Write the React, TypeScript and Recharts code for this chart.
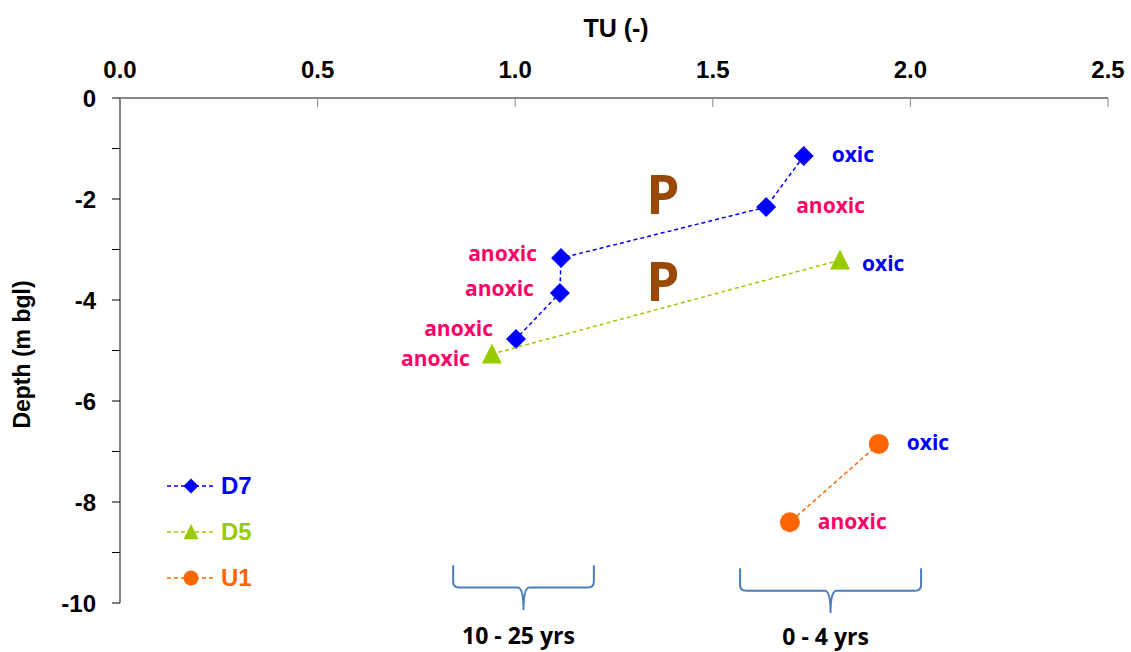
import React from "react";
import {
  ScatterChart,
  Scatter,
  XAxis,
  YAxis,
  Legend,
  Label,
  ReferenceArea,
  ReferenceDot,
} from "recharts";

// tick labels
const X_TICKS = [0, 0.5, 1, 1.5, 2, 2.5];
const Y_TICKS = [0, -1, -2, -3, -4, -5, -6, -7, -8, -9, -10];
const Y_LABELLED = [0, -2, -4, -6, -8, -10];

// D7
const D7_TU = [1.73, 1.635, 1.116, 1.113, 1.002];
const D7_DEPTH = [-1.15, -2.16, -3.17, -3.86, -4.77];
const D7_NOTES = ["oxic", "anoxic", "anoxic", "anoxic", "anoxic"];

// D5
const D5_TU = [1.822, 0.941];
const D5_DEPTH = [-3.21, -5.07];
const D5_NOTES = ["oxic", "anoxic"];

// U1
const U1_TU = [1.92, 1.695];
const U1_DEPTH = [-6.85, -8.4];
const U1_NOTES = ["oxic", "anoxic"];

// "P" marks
const P_TU = [1.374, 1.374];
const P_DEPTH = [-1.94, -3.66];

// age brackets under the x range
const BRACE_LABELS = ["10 - 25 yrs", "0 - 4 yrs"];
const BRACE_TU_FROM = [0.843, 1.569];
const BRACE_TU_TO = [1.199, 2.027];
const BRACE_DEPTH_TOP = [-9.25, -9.31];
const BRACE_DEPTH_END = [-10.14, -10.2];

// where each note sits relative to its point (px)
const D7_NOTE_POS = [[28, 0], [30, 0], [-24, -3], [-26, -3], [-23, -9]];
const D5_NOTE_POS = [[22, 5], [-22, 6]];
const U1_NOTE_POS = [[28, 0], [28, 1]];

const ARIAL = '"Liberation Sans", Arial, sans-serif';
const CALIBRI = '"Open Sans", Calibri, sans-serif';
const AXIS_GREY = "#868686";
const OXIC = "#0000FF";
const ANOXIC = "#FF0066";

type Kind = "diamond" | "triangle" | "circle";

const build = (tu: number[], depth: number[], notes: string[]) =>
  tu.map((t, i) => ({ tu: t, depth: depth[i], note: notes[i], idx: i }));

const SERIES = [
  { name: "D7", color: "#0000FF", kind: "diamond" as Kind, data: build(D7_TU, D7_DEPTH, D7_NOTES), pos: D7_NOTE_POS },
  { name: "D5", color: "#99CC00", kind: "triangle" as Kind, data: build(D5_TU, D5_DEPTH, D5_NOTES), pos: D5_NOTE_POS },
  { name: "U1", color: "#FF6600", kind: "circle" as Kind, data: build(U1_TU, U1_DEPTH, U1_NOTES), pos: U1_NOTE_POS },
];

function Marker({ kind, cx, cy, r, fill }: { kind: Kind; cx: number; cy: number; r: number; fill: string }) {
  if (kind === "diamond") {
    return <polygon points={`${cx},${cy - r} ${cx + r},${cy} ${cx},${cy + r} ${cx - r},${cy}`} fill={fill} />;
  }
  if (kind === "triangle") {
    const h = r * 1.9;
    return (
      <polygon
        points={`${cx},${cy - h / 2 - 1} ${cx + r},${cy + h / 2} ${cx - r},${cy + h / 2}`}
        fill={fill}
      />
    );
  }
  return <circle cx={cx} cy={cy} r={r} fill={fill} />;
}

const pointShape = (kind: Kind, color: string, pos: number[][]) => (p: any) => {
  const { cx, cy, payload } = p;
  const [dx, dy] = pos[payload.idx] || [26, 0];
  const note = payload.note as string;
  return (
    <g>
      <Marker kind={kind} cx={cx} cy={cy} r={10} fill={color} />
      <text
        x={cx + dx}
        y={cy + dy + 6}
        textAnchor={dx < 0 ? "end" : "start"}
        fontFamily={CALIBRI}
        fontWeight={700}
        fontSize={21}
        fill={note === "oxic" ? OXIC : ANOXIC}
      >
        {note}
      </text>
    </g>
  );
};

const braceShape = (label: string) => (p: any) => {
  const { x, y, width, height } = p;
  const x2 = x + width;
  const mid = x + width / 2;
  const h = y + height * 0.5;
  const end = y + height;
  const d =
    `M${x},${y} L${x},${h - 6} Q${x},${h} ${x + 6},${h} L${mid - 6},${h} Q${mid},${h} ${mid},${end} ` +
    `M${x2},${y} L${x2},${h - 6} Q${x2},${h} ${x2 - 6},${h} L${mid + 6},${h} Q${mid},${h} ${mid},${end}`;
  return (
    <g>
      <path d={d} fill="none" stroke="#4A7EBB" strokeWidth={2} />
      <text
        x={mid - 5}
        y={Math.min(end + 34, 645)}
        textAnchor="middle"
        fontFamily={CALIBRI}
        fontWeight={700}
        fontSize={23}
        fill="#000"
      >
        {label}
      </text>
    </g>
  );
};

const pShape = (p: any) => (
  <text
    x={p.cx}
    y={p.cy + 18}
    textAnchor="middle"
    fontFamily={CALIBRI}
    fontWeight={700}
    fontSize={53}
    fill="#984807"
  >
    P
  </text>
);

const renderLegend = () => (
  <div>
    {SERIES.map((s) => (
      <div key={s.name} style={{ display: "flex", alignItems: "center", height: 46 }}>
        <svg width={50} height={24}>
          <line x1={0} x2={48} y1={12} y2={12} stroke={s.color} strokeWidth={1.5} strokeDasharray="4 3" />
          <Marker kind={s.kind} cx={24} cy={12} r={7.5} fill={s.color} />
        </svg>
        <span style={{ marginLeft: 4, fontFamily: ARIAL, fontWeight: 700, fontSize: 24, color: s.color }}>
          {s.name}
        </span>
      </div>
    ))}
  </div>
);

export default function App() {
  const tickStyle = { fontSize: 24, fontWeight: 700, fill: "#000", fontFamily: ARIAL };
  return (
    <div style={{ position: "absolute", left: 0, top: 0, background: "#fff" }}>
      <ScatterChart width={1131} height={652} margin={{ top: 0, right: 23, bottom: 49, left: 0 }}>
        <XAxis
          type="number"
          dataKey="tu"
          orientation="top"
          domain={[0, 2.5]}
          ticks={X_TICKS}
          height={98}
          allowDataOverflow
          tick={tickStyle}
          tickFormatter={(v) => Number(v).toFixed(1)}
          tickSize={-9}
          tickMargin={29}
          axisLine={{ stroke: AXIS_GREY, strokeWidth: 2 }}
          tickLine={{ stroke: AXIS_GREY }}
        >
          <Label
            content={(p: any) => (
              <text
                x={p.viewBox.x + p.viewBox.width / 2 + 2}
                y={37}
                textAnchor="middle"
                fontFamily={ARIAL}
                fontWeight={700}
                fontSize={25}
                fill="#000"
              >
                TU (-)
              </text>
            )}
          />
        </XAxis>
        <YAxis
          type="number"
          dataKey="depth"
          domain={[-10, 0]}
          ticks={Y_TICKS}
          width={120}
          allowDataOverflow
          interval={0}
          tick={tickStyle}
          tickFormatter={(v) => (Y_LABELLED.includes(Number(v)) ? String(v) : "")}
          tickSize={8}
          tickMargin={16}
          axisLine={{ stroke: AXIS_GREY, strokeWidth: 2 }}
          tickLine={{ stroke: "#000" }}
        >
          <Label
            content={(p: any) => {
              const cx = 22;
              const cy = p.viewBox.y + p.viewBox.height / 2 + 4;
              return (
                <text
                  x={cx}
                  y={cy}
                  transform={`rotate(-90 ${cx} ${cy})`}
                  textAnchor="middle"
                  dominantBaseline="central"
                  fontFamily={ARIAL}
                  fontWeight={700}
                  fontSize={23}
                  fill="#000"
                >
                  Depth (m bgl)
                </text>
              );
            }}
          />
        </YAxis>

        {BRACE_LABELS.map((label, i) => (
          <ReferenceArea
            key={label}
            x1={BRACE_TU_FROM[i]}
            x2={BRACE_TU_TO[i]}
            y1={BRACE_DEPTH_TOP[i]}
            y2={BRACE_DEPTH_END[i]}
            ifOverflow="visible"
            shape={braceShape(label)}
          />
        ))}

        {P_TU.map((t, i) => (
          <ReferenceDot key={i} x={t} y={P_DEPTH[i]} r={0} ifOverflow="visible" shape={pShape} />
        ))}

        {SERIES.map((s) => (
          <Scatter
            key={s.name}
            name={s.name}
            data={s.data}
            fill={s.color}
            line={{ stroke: s.color, strokeWidth: 1.5, strokeDasharray: "4 3" }}
            lineType="joint"
            shape={pointShape(s.kind, s.color, s.pos)}
            isAnimationActive={false}
          />
        ))}

        <Legend
          layout="vertical"
          align="center"
          verticalAlign="middle"
          content={renderLegend}
          wrapperStyle={{ left: 167, top: 463, width: 140 }}
        />
      </ScatterChart>
    </div>
  );
}
